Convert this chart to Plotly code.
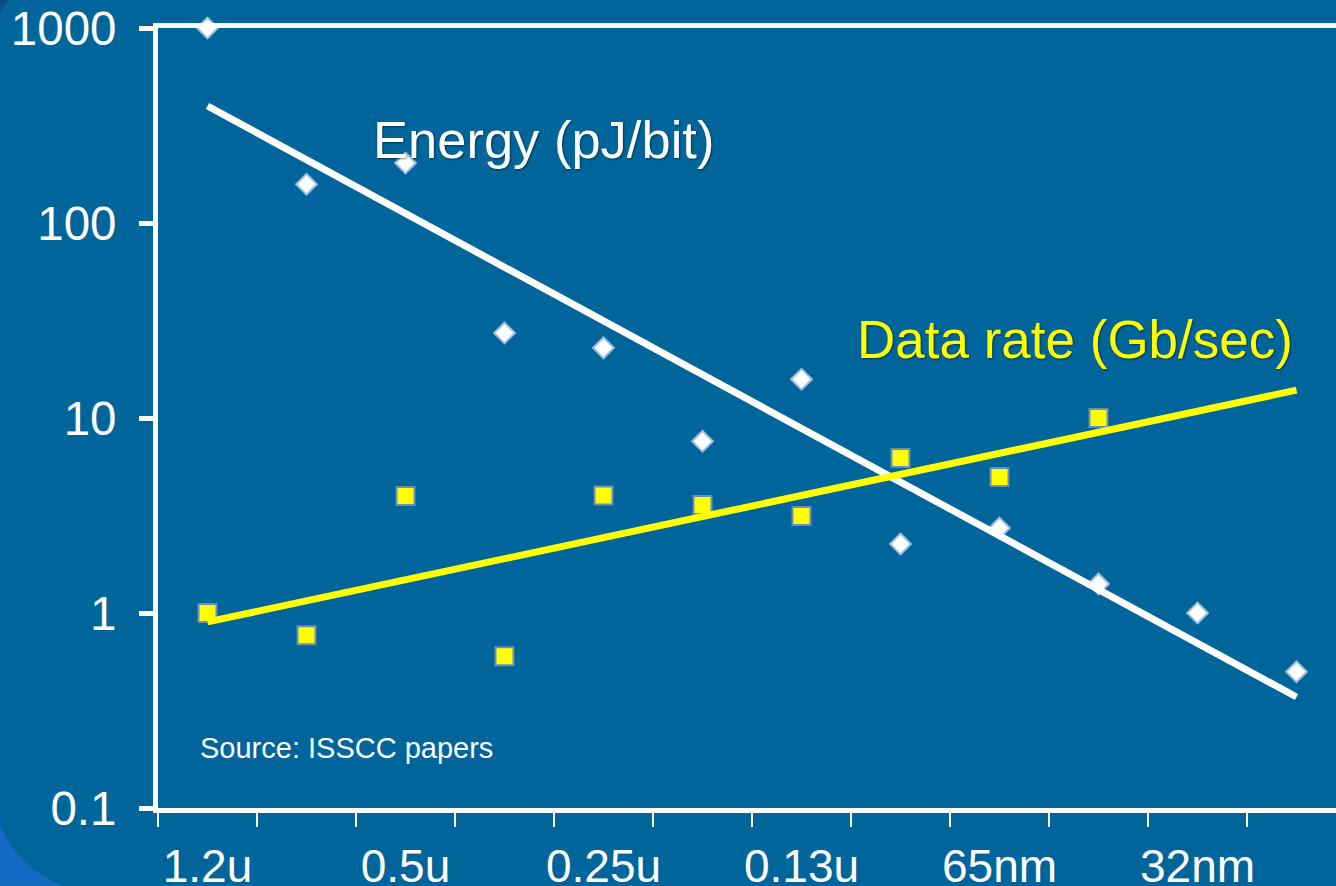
import plotly.graph_objects as go

# ---- data ----
nodes = ["1.2u", "0.8u", "0.5u", "0.35u", "0.25u", "0.18u",
         "0.13u", "90nm", "65nm", "45nm", "32nm", "22nm"]
energy_idx = list(range(12))
energy_vals = [1000, 158, 203, 27.3, 22.9, 7.6, 15.8, 2.26, 2.73, 1.41, 1.0, 0.50]
rate_idx = list(range(10))
rate_vals = [1.0, 0.77, 3.98, 0.60, 4.0, 3.58, 3.14, 6.23, 4.98, 10.0]
trend_idx = [0, 11]
energy_trend = [398, 0.371]
rate_trend = [0.90, 13.9]
label_idx = [0, 2, 4, 6, 8, 10]
label_text = [nodes[i] for i in label_idx]
ytick_vals = [0.1, 1, 10, 100, 1000]
ytick_text = ["0.1", "1", "10", "100", "1000"]

BG = "#00659A"
FONT = "Liberation Sans, Arial, sans-serif"

W, H = 1336, 886
ML, MR, MT, MB = 158, 0, 28, 78
PW = W - ML - MR
PH = H - MT - MB
STEP = 99.0


def pp(px, py):
    return ((px - ML) / PW, (H - MB - py) / PH)


fig = go.Figure()

fig.add_trace(go.Scatter(
    x=rate_idx, y=rate_vals, mode="markers", cliponaxis=False,
    marker=dict(symbol="square", size=18, color="#FFFF00",
                line=dict(color="#6C8DB8", width=2)),
    showlegend=False))
fig.add_trace(go.Scatter(
    x=energy_idx, y=energy_vals, mode="markers", cliponaxis=False,
    marker=dict(symbol="diamond", size=16, color="#FFFFFF",
                line=dict(color="#9DBDE0", width=2)),
    showlegend=False))
fig.add_trace(go.Scatter(
    x=trend_idx, y=energy_trend, mode="lines", cliponaxis=False,
    line=dict(color="#FFFFFF", width=7), showlegend=False))
fig.add_trace(go.Scatter(
    x=trend_idx, y=rate_trend, mode="lines", cliponaxis=False,
    line=dict(color="#FFFF00", width=7), showlegend=False))

shadow = "1px 1px 2px rgba(0,0,0,0.45)"
ex, ey = pp(543, 139)
dx, dy = pp(1075, 339)
sx, sy = pp(198, 748)
annotations = [
    dict(x=ex, y=ey, xref="paper", yref="paper", text="Energy (pJ/bit)",
         showarrow=False, xanchor="center", yanchor="middle",
         font=dict(family=FONT, size=52.5, color="#FFFFFF", shadow=shadow)),
    dict(x=dx, y=dy, xref="paper", yref="paper", text="Data rate (Gb/sec)",
         showarrow=False, xanchor="center", yanchor="middle",
         font=dict(family=FONT, size=53, color="#FFFF00", shadow=shadow)),
    dict(x=sx, y=sy, xref="paper", yref="paper", text="Source: ISSCC papers",
         showarrow=False, xanchor="left", yanchor="middle",
         font=dict(family=FONT, size=29, color="#FFFFFF")),
]

# slide decorations
a = pp(0, 825); c = pp(18, 868); b = pp(64, 886); d = pp(0, 886)
t1 = pp(0, 0); t2 = pp(9, 0); t3 = pp(0, 12)
shapes = [
    dict(type="path", xref="paper", yref="paper", layer="above",
         path=f"M {a[0]},{a[1]} Q {c[0]},{c[1]} {b[0]},{b[1]} L {d[0]},{d[1]} Z",
         fillcolor="#176AC3", line=dict(width=0)),
    dict(type="path", xref="paper", yref="paper", layer="above",
         path=f"M {t1[0]},{t1[1]} L {t2[0]},{t2[1]} L {t3[0]},{t3[1]} Z",
         fillcolor="#0C4A88", line=dict(width=0)),
]

fig.update_layout(
    width=W, height=H,
    margin=dict(l=ML, r=MR, t=MT, b=MB, pad=0),
    paper_bgcolor=BG, plot_bgcolor=BG,
    annotations=annotations, shapes=shapes,
    xaxis=dict(
        range=[-0.5, -0.5 + PW / STEP], automargin=False,
        tickmode="array", tickvals=label_idx, ticktext=label_text,
        ticks="", showgrid=False, zeroline=False,
        showline=True, linecolor="#FFFFFF", linewidth=5, mirror=True,
        tickfont=dict(family=FONT, size=46, color="#FFFFFF"),
        ticklabelstandoff=14,
        minor=dict(tickmode="array",
                   tickvals=[i - 0.5 for i in range(12)],
                   ticks="outside", ticklen=14, tickwidth=2,
                   tickcolor="#FFFFFF", showgrid=False),
    ),
    yaxis=dict(
        type="log", range=[-1, 3], automargin=False,
        tickmode="array", tickvals=ytick_vals, ticktext=ytick_text,
        ticks="outside", ticklen=14, tickwidth=5, tickcolor="#FFFFFF",
        showgrid=False, zeroline=False,
        showline=True, linecolor="#FFFFFF", linewidth=5, mirror=False,
        tickfont=dict(family=FONT, size=47.5, color="#FFFFFF"),
        ticklabelstandoff=13,
    ),
)

fig.write_html(
    "out.html",
    config={"displayModeBar": False},
    post_script="document.body.style.margin='0';document.body.style.overflow='hidden';",
)
